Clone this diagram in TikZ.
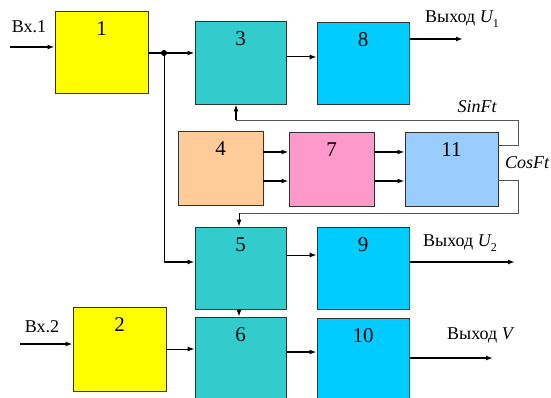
\documentclass[tikz,border=0pt]{standalone}
\usepackage{fontspec}
\setmainfont{Liberation Serif}
\usetikzlibrary{arrows.meta}
\definecolor{cYellow}{HTML}{FFFF00}
\definecolor{cTeal}{HTML}{33CCCC}
\definecolor{cCyan}{HTML}{00CCFF}
\definecolor{cPeach}{HTML}{FFCC99}
\definecolor{cPink}{HTML}{FF99CC}
\definecolor{cSky}{HTML}{99CCFF}
\definecolor{cEdge}{HTML}{333333}
\definecolor{cLoop}{HTML}{555555}
\tikzset{
  blk/.style={draw=cEdge, line width=0.9pt, inner sep=0pt},
  num/.style={anchor=base, inner sep=0pt, font=\fontsize{21}{21}\selectfont},
  lbl/.style={inner sep=0pt, font=\fontsize{18}{18}\selectfont},
  tip/.style={-{Latex[length=7pt,width=5pt]}},
  wire/.style={tip, line width=1pt, black},
  bus/.style={tip, line width=2.6pt, black},
  loop/.style={line width=0.9pt, cLoop},
}
\newcommand{\outsub}[2]{{\itshape #1}\raisebox{-0.3em}{\fontsize{12}{12}\selectfont #2}}
\begin{document}
\begin{tikzpicture}[x=1pt, y=-1pt]
\useasboundingbox (0,0) rectangle (551,398);

% blocks
\node[blk, fill=cYellow, minimum width=93pt, minimum height=82pt] (b1) at (101.5,52) {};
\node[blk, fill=cYellow, minimum width=93pt, minimum height=84pt] (b2) at (119.5,349) {};
\node[blk, fill=cTeal, minimum width=91pt, minimum height=83pt] (b3) at (240.5,62.5) {};
\node[blk, fill=cCyan, minimum width=92pt, minimum height=82pt] (b8) at (363,63) {};
\node[blk, fill=cPeach, minimum width=85pt, minimum height=74pt] (b4) at (220.5,168) {};
\node[blk, fill=cPink, minimum width=85pt, minimum height=74pt] (b7) at (331.5,169) {};
\node[blk, fill=cSky, minimum width=93pt, minimum height=74pt] (b11) at (451.5,169) {};
\node[blk, fill=cTeal, minimum width=91pt, minimum height=82pt] (b5) at (240.5,268) {};
\node[blk, fill=cCyan, minimum width=92pt, minimum height=82pt] (b9) at (363,268) {};
\node[blk, fill=cTeal, minimum width=91pt, minimum height=84pt] (b6) at (240.5,359) {};
\node[blk, fill=cCyan, minimum width=92pt, minimum height=83pt] (b10) at (363,359.5) {};

% block numbers
\node[num] (n1) at ([yshift=-25pt]b1.north) {1};
\node[num] (n2) at ([yshift=-25pt]b2.north) {2};
\node[num] (n3) at ([yshift=-25pt]b3.north) {3};
\node[num] (n8) at ([yshift=-25pt]b8.north) {8};
\node[num] (n4) at ([yshift=-25pt]b4.north) {4};
\node[num] (n7) at ([yshift=-25pt]b7.north) {7};
\node[num] (n11) at ([yshift=-25pt]b11.north) {11};
\node[num] (n5) at ([yshift=-25pt]b5.north) {5};
\node[num] (n9) at ([yshift=-25pt]b9.north) {9};
\node[num] (n6) at ([yshift=-25pt]b6.north) {6};
\node[num] (n10) at ([yshift=-25pt]b10.north) {10};

% inputs
\coordinate (in1) at (10,47);
\coordinate (in2) at (20,344);
\node[lbl] (tin1) at (29,27) {Вх.1};
\node[lbl] (tin2) at (42,327) {Вх.2};
\draw[wire, line width=1.6pt] (in1) -- (in1 -| b1.west);
\draw[wire, line width=1.6pt] (in2) -- (in2 -| b2.west);

% branch from block 1
\coordinate (jn) at (164,53);
\coordinate (jd) at (164,262);
\draw[line width=2.6pt] (jn -| b1.east) -- (jn);
\draw[bus] (jn) -- (jn -| b3.west);
\fill (jn) circle (3pt);
\draw[line width=1pt] (jn) -- (jd);
\draw[wire, line width=1.6pt] (jd) -- (jd -| b5.west);

% forward chain
\draw[wire] ([yshift=5.5pt]b3.east) -- ([yshift=5.5pt]b3.east -| b8.west);
\draw[wire] ([yshift=13pt]b5.east) -- ([yshift=13pt]b5.east -| b9.west);
\draw[wire] (b2.east) -- (b2.east -| b6.west);
\draw[wire, line width=1.6pt] ([yshift=7pt]b6.east) -- ([yshift=7pt]b6.east -| b10.west);
\draw[wire] (b5.south -| 239,0) -- (b6.north -| 239,0);

% generator chain 4 -> 7 -> 11
\draw[wire, line width=1.6pt] ([yshift=16pt]b4.east) -- ([yshift=16pt]b4.east -| b7.west);
\draw[wire, line width=1.6pt] ([yshift=-13pt]b4.east) -- ([yshift=-13pt]b4.east -| b7.west);
\draw[wire, line width=1.6pt] ([yshift=17pt]b7.east) -- ([yshift=17pt]b7.east -| b11.west);
\draw[wire, line width=1.6pt] ([yshift=-12pt]b7.east) -- ([yshift=-12pt]b7.east -| b11.west);

% SinFt / CosFt feedback loops
\coordinate (sc) at (518,120);
\coordinate (cc) at (518,213);
\draw[loop] ([yshift=24pt]b11.east) -| (sc) -- (sc -| 236,0);
\draw[bus] (sc -| 236,0) -- (b3.south -| 236,0);
\draw[loop] ([yshift=-11pt]b11.east) -| (cc) -- (cc -| 239,0);
\draw[wire] (cc -| 239,0) -- (b5.north -| 239,0);
\node[lbl, font=\fontsize{18}{18}\selectfont\itshape] (tsin) at (477,107) {SinFt};
\node[lbl, font=\fontsize{18}{18}\selectfont\itshape] (tcos) at (527,163) {CosFt};

% outputs
\coordinate (o1) at (463,39);
\coordinate (o2) at (515,262);
\coordinate (o3) at (493,358);
\draw[bus] (o1 -| b8.east) -- (o1);
\draw[bus] (o2 -| b9.east) -- (o2);
\draw[wire, line width=1.8pt] (o3 -| b10.east) -- (o3);
\node[lbl] (to1) at (462,19) {Выход \outsub{U}{1}};
\node[lbl] (to2) at (460,243) {Выход \outsub{U}{2}};
\node[lbl] (to3) at (480,335) {Выход {\itshape V}};
\end{tikzpicture}
\end{document}
